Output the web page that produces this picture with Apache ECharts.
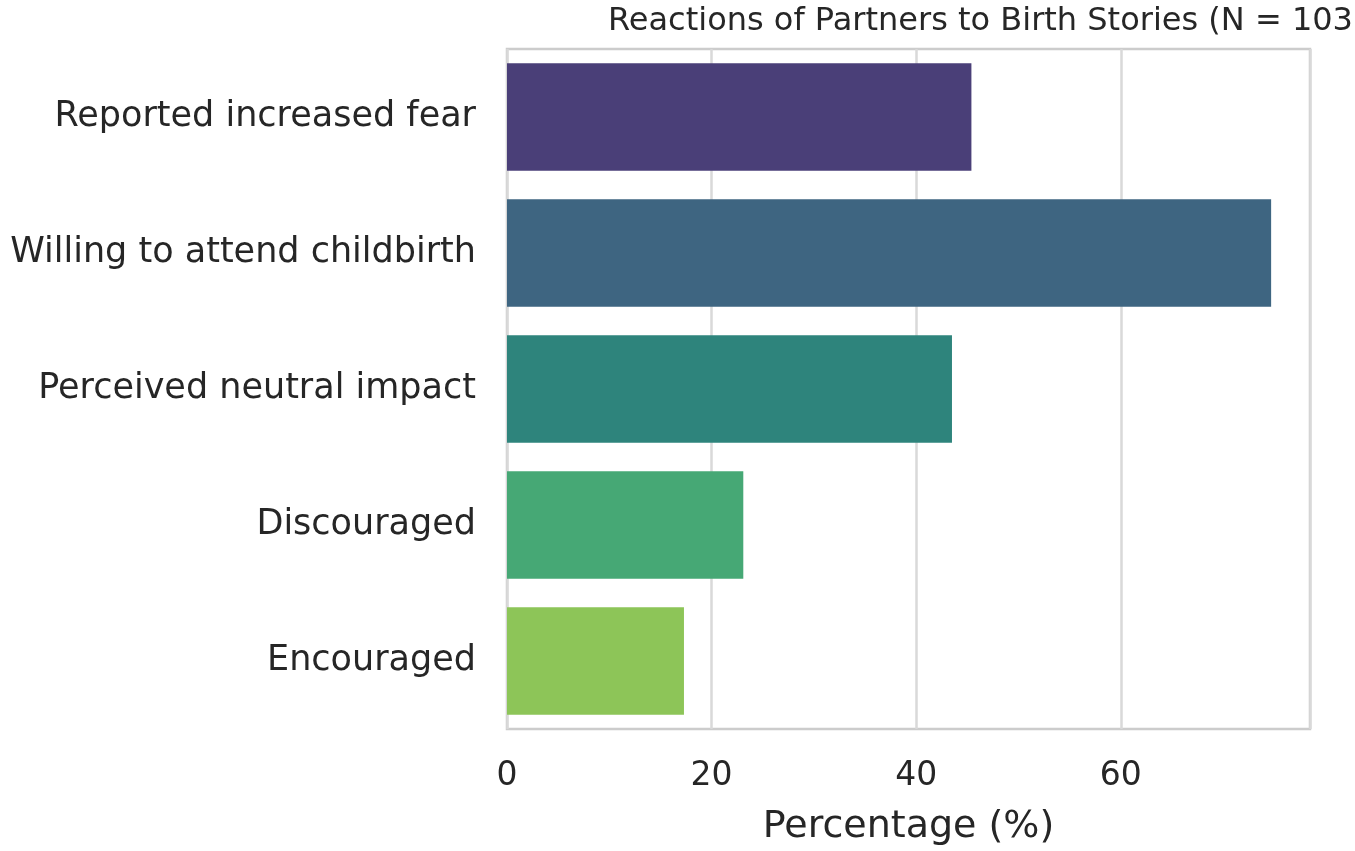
<!DOCTYPE html>
<html>
<head>
<meta charset="utf-8">
<script src="https://cdn.jsdelivr.net/npm/echarts@6/dist/echarts.min.js"></script>
<style>
html,body{margin:0;padding:0;background:#fff;}
#c{width:1355px;height:851px;}
</style>
</head>
<body>
<div id="c"></div>
<script>
const categories = ["Reported increased fear", "Willing to attend childbirth", "Perceived neutral impact", "Discouraged", "Encouraged"];
const values = [45.4, 74.7, 43.5, 23.1, 17.3];
const barColors = ["#4a3f78", "#3e6581", "#2e847c", "#46a875", "#8dc558"];
const xTicks = [0, 20, 40, 60];
const titleText = "Reactions of Partners to Birth Stories (N = 103)";
const xName = "Percentage (%)";

const chart = echarts.init(document.getElementById('c'), null, {renderer: 'canvas'});
const font = "'DejaVu Sans', sans-serif";
chart.setOption({
  backgroundColor: '#ffffff',
  animation: false,
  title: {
    text: titleText,
    left: 603, top: 1,
    textStyle: {fontFamily: font, fontSize: 32, fontWeight: 'normal', color: '#262626'}
  },
  grid: {
    left: 507, right: 45, top: 49, bottom: 119,
    show: true, borderColor: '#cccccc', borderWidth: 2.5, backgroundColor: 'transparent'
  },
  xAxis: {
    type: 'value', min: 0, max: 78.5, interval: 20,
    name: xName, nameLocation: 'middle', nameGap: 79,
    nameTextStyle: {fontFamily: font, fontSize: 38, color: '#262626'},
    axisLine: {show: false}, axisTick: {show: false},
    axisLabel: {
      fontFamily: font, fontSize: 33, color: '#262626', margin: 31,
      showMaxLabel: false,
      formatter: v => xTicks.includes(v) ? String(v) : ''
    },
    splitLine: {show: true, lineStyle: {color: '#d9d9d9', width: 2.5}}
  },
  yAxis: {
    type: 'category', data: categories, inverse: true,
    axisLine: {show: false}, axisTick: {show: false},
    axisLabel: {fontFamily: font, fontSize: 35, color: '#262626', margin: 31, padding: [6, 0, 0, 0]},
    splitLine: {show: false}
  },
  series: [{
    type: 'bar',
    data: values.map((v, i) => ({value: v, itemStyle: {color: barColors[i]}})),
    barWidth: '79%'
  }]
});
</script>
</body>
</html>
